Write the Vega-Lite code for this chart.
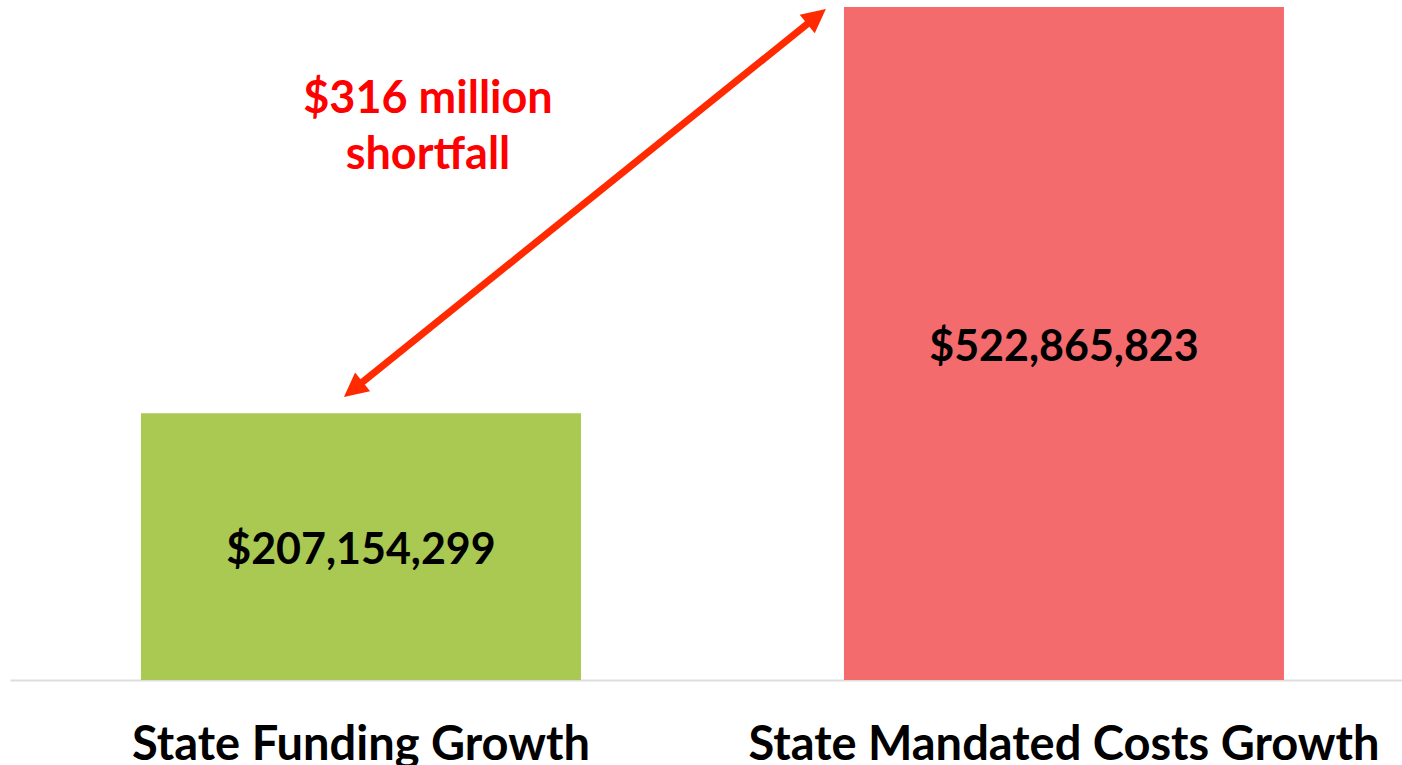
{
  "$schema": "https://vega.github.io/schema/vega-lite/v6.json",
  "width": 1392,
  "height": 673,
  "autosize": {"type": "none"},
  "padding": {"left": 10, "top": 7, "right": 0, "bottom": 85},
  "background": "white",
  "config": {"view": {"stroke": null}, "font": "Lato"},
  "datasets": {
    "bars": [
      {"category": "State Funding Growth", "value": 207154299},
      {"category": "State Mandated Costs Growth", "value": 522865823}
    ],
    "arrow": [
      {"end": "low", "pos": -0.011, "amount": 225700000},
      {"end": "high", "pos": 0.648, "amount": 515500000}
    ],
    "note": [
      {"pos": 0.0953, "amount": 451400000, "label": ["$316 million", "shortfall"]}
    ]
  },
  "layer": [
    {
      "data": {"name": "bars"},
      "encoding": {
        "x": {
          "field": "category",
          "type": "nominal",
          "sort": null,
          "scale": {"paddingInner": 0.3741, "paddingOuter": 0.17709, "align": 0.526},
          "axis": {
            "title": null,
            "labelAngle": 0,
            "ticks": false,
            "grid": false,
            "domainColor": "#dddddd",
            "domainWidth": 2,
            "labelFont": "Lato",
            "labelFontSize": 47,
            "labelFontWeight": "bold",
            "labelColor": "#000000",
            "labelPadding": 42,
            "labelLimit": 900,
            "labelOverlap": false
          }
        }
      },
      "layer": [
        {
          "mark": {"type": "bar"},
          "encoding": {
            "y": {
              "field": "value",
              "type": "quantitative",
              "scale": {"domain": [0, 522865823], "nice": false},
              "axis": null
            },
            "color": {
              "field": "category",
              "type": "nominal",
              "sort": null,
              "scale": {"range": ["#a9c952", "#f46b6e"]},
              "legend": null
            }
          }
        },
        {
          "transform": [{"calculate": "datum.value / 2", "as": "mid"}],
          "mark": {"type": "text", "font": "Lato", "fontSize": 43, "fontWeight": "bold", "color": "#000000", "baseline": "middle", "dy": 4},
          "encoding": {
            "y": {"field": "mid", "type": "quantitative", "axis": null},
            "text": {"field": "value", "type": "quantitative", "format": "$,"}
          }
        }
      ]
    },
    {
      "encoding": {
        "x": {
          "field": "pos",
          "type": "quantitative",
          "scale": {"domain": [-0.49929, 1.4808], "nice": false, "zero": false},
          "axis": null
        },
        "y": {"field": "amount", "type": "quantitative", "axis": null}
      },
      "layer": [
        {
          "data": {"name": "arrow"},
          "mark": {"type": "line", "color": "#ff2a00", "strokeWidth": 7, "strokeCap": "butt"}
        },
        {
          "data": {"name": "arrow"},
          "transform": [{"filter": "datum.end === 'high'"}],
          "mark": {"type": "point", "shape": "M0,-1L1,1L-1,1Z", "filled": true, "color": "#ff2a00", "opacity": 1, "size": 576, "angle": 51.2}
        },
        {
          "data": {"name": "arrow"},
          "transform": [{"filter": "datum.end === 'low'"}],
          "mark": {"type": "point", "shape": "M0,-1L1,1L-1,1Z", "filled": true, "color": "#ff2a00", "opacity": 1, "size": 576, "angle": 231.2}
        },
        {
          "data": {"name": "note"},
          "mark": {"type": "text", "font": "Lato", "fontSize": 45, "fontWeight": "bold", "color": "#ff0000", "align": "center", "baseline": "middle", "lineHeight": 56},
          "encoding": {"text": {"field": "label"}}
        }
      ]
    }
  ],
  "resolve": {"scale": {"x": "independent"}, "axis": {"x": "independent"}}
}
